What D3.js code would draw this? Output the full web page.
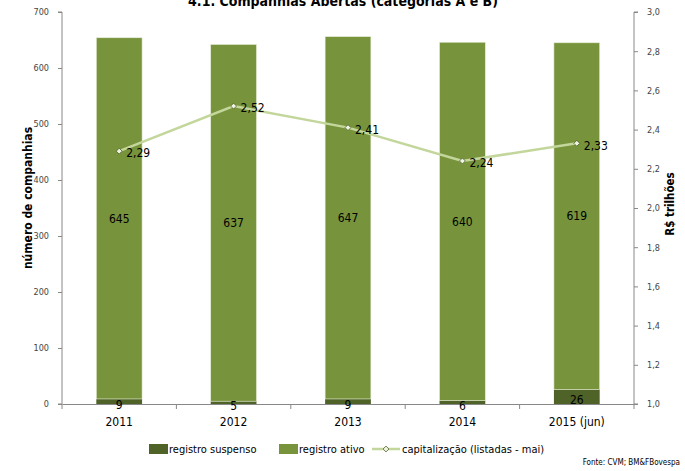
<!DOCTYPE html>
<html lang="pt">
<head>
<meta charset="UTF-8">
<title>Companhias Abertas</title>
<script src="https://cdn.jsdelivr.net/npm/d3@7"></script>
<style>
  body { margin: 0; background: #fff; }
  svg text { font-family: "Liberation Sans Narrow", "DejaVu Sans Condensed", "Open Sans", sans-serif; fill: #000; }
  .tick text { font-size: 9px; fill: #444; }
</style>
</head>
<body>
<svg width="685" height="471"></svg>
<script>
var anos = ['2011', '2012', '2013', '2014', '2015 (jun)']
var suspenso = [9, 5, 9, 6, 26]
var ativo = [645, 637, 647, 640, 619]
var capitalizacao = [2.29, 2.52, 2.41, 2.24, 2.33]
var yTicks = [0, 100, 200, 300, 400, 500, 600, 700]
var y2Ticks = [1.0, 1.2, 1.4, 1.6, 1.8, 2.0, 2.2, 2.4, 2.6, 2.8, 3.0]

var corSusp = '#4f6228'
var corAtivo = '#77933c'
var corLinha = '#c3d69b'

var pLeft = 62, pRight = 634, pTop = 12, pBottom = 404
var svg = d3.select('svg')

var x = d3.scaleBand().domain(anos).range([pLeft, pRight]).paddingInner(0.6).paddingOuter(0.3)
var y = d3.scaleLinear().domain([0, 700]).range([pBottom, pTop])
var y2 = d3.scaleLinear().domain([1.0, 3.0]).range([pBottom, pTop])
var band = (pRight - pLeft) / anos.length
var fmt = d3.format('.2f')
var br = function (v) { return fmt(v).replace('.', ',') }

// titulo (cortado no topo como no original)
svg.append('text')
  .attr('x', 343).attr('y', 6)
  .attr('text-anchor', 'middle')
  .style('font-size', '14px').style('font-weight', 'bold')
  .text('4.1. Companhias Abertas (categorias A e B)')

// barras empilhadas
var g = svg.append('g')
anos.forEach(function (a, i) {
  g.append('rect')
    .attr('x', x(a)).attr('width', x.bandwidth())
    .attr('y', y(suspenso[i])).attr('height', y(0) - y(suspenso[i]))
    .attr('fill', corSusp)
  g.append('rect')
    .attr('x', x(a)).attr('width', x.bandwidth())
    .attr('y', y(suspenso[i] + ativo[i])).attr('height', y(suspenso[i]) - y(suspenso[i] + ativo[i]))
    .attr('fill', corAtivo)
    .attr('stroke', '#e6edd6').attr('stroke-width', 0.6)
  g.append('text')
    .attr('x', x(a) + x.bandwidth() / 2)
    .attr('y', y(suspenso[i] + ativo[i] / 2))
    .attr('dy', '0.35em').attr('text-anchor', 'middle')
    .style('font-size', '12px')
    .text(ativo[i])
})

// eixos
var axL = svg.append('g').attr('transform', 'translate(' + pLeft + ',0)')
  .call(d3.axisLeft(y).tickValues(yTicks).tickSize(4).tickPadding(9))
var axR = svg.append('g').attr('transform', 'translate(' + pRight + ',0)')
  .call(d3.axisRight(y2).tickValues(y2Ticks).tickSize(4).tickPadding(9).tickFormat(function (d) { return d3.format('.1f')(d).replace('.', ',') }))
var axB = svg.append('g').attr('transform', 'translate(0,' + pBottom + ')')
  .call(d3.axisBottom(x).tickSize(0).tickPadding(13))
axB.selectAll('.tick text').style('font-size', '12px').style('fill', '#000')
d3.range(anos.length + 1).forEach(function (k) {
  axB.append('line')
    .attr('x1', pLeft + k * band).attr('x2', pLeft + k * band)
    .attr('y1', 0).attr('y2', 5).attr('stroke', '#888')
})
;[axL, axR, axB].forEach(function (a) {
  a.select('.domain').attr('stroke', '#888')
  a.selectAll('.tick line').attr('stroke', '#888')
})
axL.select('.domain').attr('d', 'M-4,' + pTop + 'H0V' + pBottom + 'H-4')
axR.select('.domain').attr('d', 'M4,' + pTop + 'H0V' + pBottom + 'H4')

// rotulos dos suspensos (por cima do eixo)
anos.forEach(function (a, i) {
  svg.append('text')
    .attr('x', x(a) + x.bandwidth() / 2)
    .attr('y', y(suspenso[i] / 2) + 3)
    .attr('dy', '0.35em').attr('text-anchor', 'middle')
    .style('font-size', '12px')
    .text(suspenso[i])
})

// linha de capitalizacao
var cx = function (i) { return x(anos[i]) + x.bandwidth() / 2 }
svg.append('path')
  .datum(capitalizacao)
  .attr('fill', 'none').attr('stroke', corLinha).attr('stroke-width', 2.5)
  .attr('d', d3.line().x(function (d, i) { return cx(i) }).y(function (d) { return y2(d) }))
var diamond = d3.symbol().type(d3.symbolDiamond2).size(22)
capitalizacao.forEach(function (v, i) {
  svg.append('path')
    .attr('d', diamond)
    .attr('transform', 'translate(' + cx(i) + ',' + y2(v) + ')')
    .attr('fill', '#eef3e2').attr('stroke', '#4f6228').attr('stroke-width', 0.8)
  svg.append('text')
    .attr('x', cx(i) + 7).attr('y', y2(v) + 2)
    .attr('dy', '0.35em')
    .style('font-size', '12px')
    .text(br(v))
})

// titulos dos eixos
svg.append('text')
  .attr('transform', 'translate(32,198) rotate(-90)')
  .attr('text-anchor', 'middle')
  .style('font-size', '12px').style('font-weight', 'bold')
  .text('número de companhias')
svg.append('text')
  .attr('transform', 'translate(674,204) rotate(-90)')
  .attr('text-anchor', 'middle')
  .style('font-size', '11.5px').style('font-weight', 'bold')
  .text('R$ trilhões')

// legenda
var leg = svg.append('g').attr('transform', 'translate(0,449)')
leg.append('rect').attr('x', 149).attr('y', -5).attr('width', 19).attr('height', 10).attr('fill', corSusp)
leg.append('text').attr('x', 169).attr('y', 0).attr('dy', '0.35em').style('font-size', '11px').text('registro suspenso')
leg.append('rect').attr('x', 279).attr('y', -5).attr('width', 19).attr('height', 10).attr('fill', corAtivo)
leg.append('text').attr('x', 299).attr('y', 0).attr('dy', '0.35em').style('font-size', '11px').text('registro ativo')
leg.append('line').attr('x1', 372).attr('x2', 400).attr('y1', 0).attr('y2', 0).attr('stroke', corLinha).attr('stroke-width', 2.5)
leg.append('path').attr('d', diamond).attr('transform', 'translate(386,0)')
  .attr('fill', '#eef3e2').attr('stroke', '#4f6228').attr('stroke-width', 0.8)
leg.append('text').attr('x', 402).attr('y', 0).attr('dy', '0.35em').style('font-size', '11px').text('capitalização (listadas - mai)')

svg.append('text')
  .attr('x', 680).attr('y', 465)
  .attr('text-anchor', 'end')
  .style('font-size', '8px')
  .text('Fonte: CVM; BM&FBovespa')
</script>
</body>
</html>
